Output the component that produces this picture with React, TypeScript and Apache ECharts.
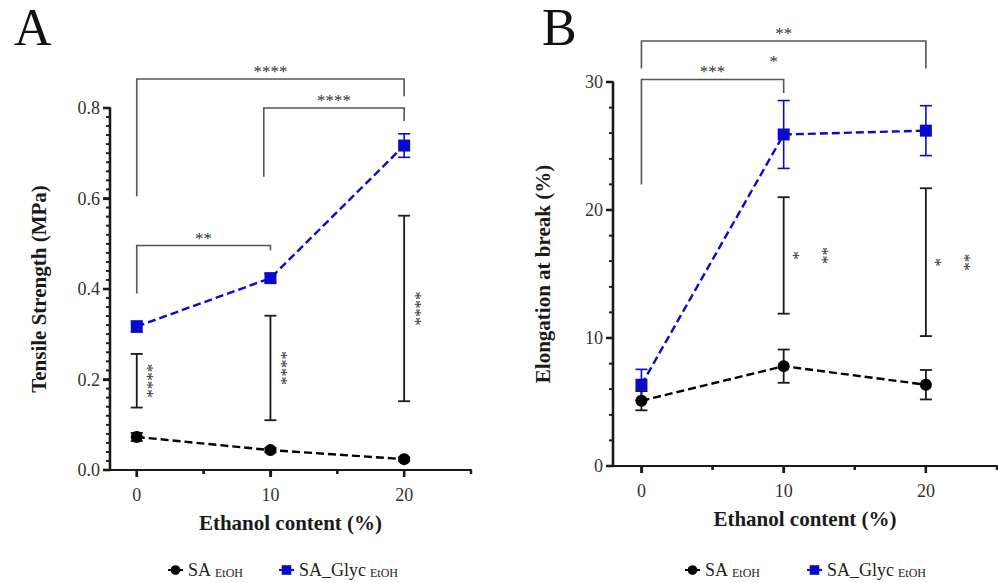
import React, { useEffect, useRef } from "react";
import * as echarts from "echarts";

// Ethanol content (%) of each formulation
const ethanolContent = [0, 10, 20];

// Panel A: tensile strength (MPa), mean and SD
const tensileSA = [0.073, 0.044, 0.024];
const tensileSAErr = [0.009, 0.005, 0.004];
const tensileGlyc = [0.317, 0.424, 0.717];
const tensileGlycErr = [0.012, 0.01, 0.026];

// Panel B: elongation at break (%), mean and SD
const elongSA = [5.1, 7.8, 6.35];
const elongSAErr = [0.75, 1.3, 1.15];
const elongGlyc = [6.35, 25.9, 26.2];
const elongGlycErr = [1.2, 2.65, 1.95];

// x-axis tick positions
const xMajorTicks = [0, 10, 20];
const xMinorTicks = [5, 15, 25];

// y-axis tick positions
const tensileTicks = [0, 0.2, 0.4, 0.6, 0.8];
const elongTicks = [0, 10, 20, 30];

// Comparison brackets: [xStart, xEnd, yBar, yLeftEnd, yRightEnd]
const tensileBrackets = [
  [0, 20, 0.864, 0.605, 0.826],
  [9.5, 20, 0.8, 0.648, 0.771],
  [0, 10, 0.496, 0.39, 0.485],
];
const tensileBracketLabels = ["****", "****", "**"];

// Vertical comparison bars between the two formulations: [x, yTop, yBottom]
const tensileBars = [
  [0, 0.2565, 0.138],
  [10, 0.341, 0.11],
  [20, 0.562, 0.152],
];
const tensileBarLabels = [["****"], ["****"], ["****"]];

const elongBrackets = [
  [0, 20, 33.2, 31.05, 31.05],
  [0, 10, 30.2, 22.0, 29.14],
];
const elongBracketLabels = ["**", "***"];

const elongBars = [
  [10, 21.0, 11.9],
  [20, 21.7, 10.15],
];
const elongBarLabels = [["*", "**"], ["*", "**"]];

// Free-standing marks: [x, y]
const elongNotes = [[9.3, 31.6]];
const elongNoteLabels = ["*"];

const FONT = "'Liberation Serif', 'Times New Roman', serif";
const BLUE = "#0a0acc";
const INK = "#1a1a1a";
const BRACKET = "#555555";
const NOTE = "#333333";
const X_MIN = -2;
const X_MAX = 25;

const pair = (xs: number[], ys: number[], es?: number[]) =>
  xs.map((x, i) => (es ? [x, ys[i], es[i]] : [x, ys[i]]));

const seg = (x1: number, y1: number, x2: number, y2: number, stroke: string, lineWidth: number) => ({
  type: "line",
  shape: { x1, y1, x2, y2 },
  style: { stroke, lineWidth, fill: null },
});

// Axis frame (lines, major and minor ticks) from any value -> pixel mapping
function frameSegments(toPx: (x: number, y: number) => number[], yTicks: number[], yMinorSplit: number) {
  const origin = toPx(X_MIN, yTicks[0]);
  const xEnd = toPx(X_MAX, yTicks[0]);
  const yTop = toPx(X_MIN, yTicks[yTicks.length - 1]);
  const left = origin[0];
  const bottom = origin[1];
  const kids: any[] = [
    seg(left - 7, bottom, xEnd[0], bottom, INK, 2.2),
    seg(left, bottom, left, yTop[1], INK, 2.2),
  ];
  xMajorTicks.forEach((v) => {
    const px = toPx(v, 0)[0];
    kids.push(seg(px, bottom, px, bottom + 7, INK, 2.2));
  });
  xMinorTicks.forEach((v) => {
    const px = toPx(v, 0)[0];
    kids.push(seg(px, bottom, px, bottom + 4, INK, 2.2));
  });
  yTicks.forEach((v, i) => {
    const py = toPx(X_MIN, v)[1];
    kids.push(seg(left, py, left - 7, py, INK, 2.2));
    if (i < yTicks.length - 1) {
      const step = (yTicks[i + 1] - v) / yMinorSplit;
      for (let k = 1; k < yMinorSplit; k++) {
        const pm = toPx(X_MIN, v + step * k)[1];
        kids.push(seg(left, pm, left - 4, pm, INK, 1.6));
      }
    }
  });
  return kids;
}

function axisFrameSeries(grid: number, yTicks: number[], yMinorSplit: number) {
  return {
    type: "custom",
    xAxisIndex: grid,
    yAxisIndex: grid,
    clip: false,
    silent: true,
    z: 4,
    itemStyle: { color: INK },
    data: [[0, yTicks[1]]],
    renderItem: (_p: any, api: any) => ({
      type: "group",
      children: frameSegments((x, y) => api.coord([x, y]), yTicks, yMinorSplit),
    }),
  };
}

function errorBarSeries(data: number[][], color: string, grid: number, width: number) {
  return {
    type: "custom",
    xAxisIndex: grid,
    yAxisIndex: grid,
    clip: false,
    z: 1,
    silent: true,
    itemStyle: { color },
    data,
    renderItem: (_p: any, api: any) => {
      const x = api.value(0);
      const y = api.value(1);
      const e = api.value(2);
      const top = api.coord([x, y + e]);
      const bot = api.coord([x, y - e]);
      const cap = 6;
      return {
        type: "group",
        children: [
          seg(top[0], top[1], bot[0], bot[1], color, width),
          seg(top[0] - cap, top[1], top[0] + cap, top[1], color, width),
          seg(bot[0] - cap, bot[1], bot[0] + cap, bot[1], color, width),
        ],
      };
    },
  };
}

function noteText(text: string, x: number, y: number, rotation = 0, align = "center", vAlign = "middle") {
  return {
    type: "text",
    x,
    y,
    rotation,
    style: { text, x: 0, y: 0, align, verticalAlign: vAlign, fontSize: 17, fontFamily: FONT, fill: NOTE },
  };
}

function bracketSeries(data: number[][], labels: string[], grid: number) {
  return {
    type: "custom",
    xAxisIndex: grid,
    yAxisIndex: grid,
    clip: false,
    silent: true,
    z: 1,
    itemStyle: { color: NOTE },
    data,
    renderItem: (p: any, api: any) => {
      const x1 = api.value(0);
      const x2 = api.value(1);
      const yBar = api.value(2);
      const bl = api.coord([x1, yBar]);
      const br = api.coord([x2, yBar]);
      const l = api.coord([x1, api.value(3)]);
      const r = api.coord([x2, api.value(4)]);
      return {
        type: "group",
        children: [
          {
            type: "polyline",
            shape: { points: [[l[0], l[1]], [bl[0], bl[1]], [br[0], br[1]], [r[0], r[1]]] },
            style: { stroke: BRACKET, lineWidth: 1.6, fill: null },
          },
          noteText(labels[p.dataIndex], (bl[0] + br[0]) / 2, bl[1] + 1, 0, "center", "bottom"),
        ],
      };
    },
  };
}

function compareBarSeries(data: number[][], labels: string[][], grid: number, offsets: number[]) {
  return {
    type: "custom",
    xAxisIndex: grid,
    yAxisIndex: grid,
    clip: false,
    silent: true,
    z: 1,
    itemStyle: { color: NOTE },
    data,
    renderItem: (p: any, api: any) => {
      const x = api.value(0);
      const top = api.coord([x, api.value(1)]);
      const bot = api.coord([x, api.value(2)]);
      const cap = 6;
      const midY = (top[1] + bot[1]) / 2;
      const texts = labels[p.dataIndex].map((t, k) => noteText(t, top[0] + offsets[k], midY, -Math.PI / 2));
      return {
        type: "group",
        children: [
          seg(top[0], top[1], bot[0], bot[1], INK, 1.8),
          seg(top[0] - cap, top[1], top[0] + cap, top[1], INK, 1.8),
          seg(bot[0] - cap, bot[1], bot[0] + cap, bot[1], INK, 1.8),
          ...texts,
        ],
      };
    },
  };
}

function noteSeries(data: number[][], labels: string[], grid: number) {
  return {
    type: "custom",
    xAxisIndex: grid,
    yAxisIndex: grid,
    clip: false,
    silent: true,
    z: 1,
    itemStyle: { color: NOTE },
    data,
    renderItem: (p: any, api: any) => {
      const pt = api.coord([api.value(0), api.value(1)]);
      return { type: "group", children: [noteText(labels[p.dataIndex], pt[0], pt[1])] };
    },
  };
}

function xAxisFor(grid: number) {
  return {
    type: "value",
    gridIndex: grid,
    position: "bottom",
    min: X_MIN,
    max: X_MAX,
    splitLine: { show: false },
    name: "Ethanol content (%)",
    nameLocation: "middle",
    nameGap: 42,
    nameTextStyle: { fontFamily: FONT, fontWeight: "bold", fontSize: 21, color: INK },
    axisLine: { show: true, onZero: false, lineStyle: { color: INK, width: 2.2 } },
    axisTick: { show: true, customValues: xMajorTicks, length: 7, lineStyle: { color: INK, width: 2.2 } },
    axisLabel: { customValues: xMajorTicks, margin: 16, fontFamily: FONT, fontSize: 18, color: "#333" },
  };
}

function yAxisFor(grid: number, name: string, ticks: number[], digits: number, gap: number) {
  return {
    type: "value",
    gridIndex: grid,
    position: "left",
    min: ticks[0],
    max: ticks[ticks.length - 1],
    interval: ticks[1] - ticks[0],
    name,
    nameLocation: "middle",
    nameGap: gap,
    nameTextStyle: { fontFamily: FONT, fontWeight: "bold", fontSize: 21, color: INK },
    splitLine: { show: false },
    axisLine: { show: true, onZero: false, lineStyle: { color: INK, width: 2.2 } },
    axisTick: { show: true, length: 7, lineStyle: { color: INK, width: 2.2 } },
    axisLabel: {
      margin: 10,
      fontFamily: FONT,
      fontSize: 18,
      color: "#333",
      formatter: (v: number) => v.toFixed(digits),
    },
  };
}

function lineSeries(name: string, grid: number, data: number[][], color: string, symbol: string, size: number) {
  return {
    type: "line",
    name,
    xAxisIndex: grid,
    yAxisIndex: grid,
    data,
    symbol,
    symbolSize: size,
    z: 3,
    itemStyle: { color },
    lineStyle: { color, width: 2.4, type: [8, 4] },
  };
}

function legendItem(name: string, left: number) {
  return {
    data: [name],
    left,
    top: 556,
    itemWidth: 15,
    itemHeight: 12,
    itemGap: 0,
    selectedMode: false,
    formatter: (n: string) => (n === "SA_EtOH" ? "{m|SA}{s|EtOH}" : "{m|SA_Glyc}{s|EtOH}"),
    textStyle: {
      color: "#222",
      rich: {
        m: { fontFamily: FONT, fontSize: 18, color: "#222", padding: [0, 4, 0, 0] },
        s: { fontFamily: FONT, fontSize: 12, color: "#222", padding: [6, 0, 0, 0] },
      },
    },
  };
}

const panelLetters = [
  { id: "letterA", type: "text", left: 14, top: 1, style: { text: "A", fontFamily: FONT, fontSize: 52, fill: "#111" } },
  { id: "letterB", type: "text", left: 542, top: 1, style: { text: "B", fontFamily: FONT, fontSize: 52, fill: "#111" } },
];

export default function App() {
  const ref = useRef<HTMLDivElement>(null);

  useEffect(() => {
    if (!ref.current) return;
    const chart = echarts.init(ref.current, null, { renderer: "svg" });

    const option = {
      animation: false,
      backgroundColor: "#ffffff",
      grid: [
        { left: 110, top: 108, width: 361, height: 362 },
        { left: 613, top: 82, width: 384, height: 384 },
      ],
      xAxis: [xAxisFor(0), xAxisFor(1)],
      yAxis: [
        yAxisFor(0, "Tensile Strength (MPa)", tensileTicks, 1, 61),
        yAxisFor(1, "Elongation at break (%)", elongTicks, 0, 60),
      ],
      legend: [
        legendItem("SA_EtOH", 162),
        legendItem("SA_Glyc_EtOH", 273),
        legendItem("SA_EtOH", 679),
        legendItem("SA_Glyc_EtOH", 801),
      ],
      graphic: panelLetters,
      series: [
        // Panel A
        axisFrameSeries(0, tensileTicks, 10),
        bracketSeries(tensileBrackets, tensileBracketLabels, 0),
        compareBarSeries(tensileBars, tensileBarLabels, 0, [11]),
        errorBarSeries(pair(ethanolContent, tensileSA, tensileSAErr), INK, 0, 1.8),
        errorBarSeries(pair(ethanolContent, tensileGlyc, tensileGlycErr), BLUE, 0, 1.6),
        lineSeries("SA_EtOH", 0, pair(ethanolContent, tensileSA), "#000000", "circle", 12),
        lineSeries("SA_Glyc_EtOH", 0, pair(ethanolContent, tensileGlyc), BLUE, "rect", 12),
        // Panel B
        axisFrameSeries(1, elongTicks, 5),
        bracketSeries(elongBrackets, elongBracketLabels, 1),
        compareBarSeries(elongBars, elongBarLabels, 1, [10, 39]),
        noteSeries(elongNotes, elongNoteLabels, 1),
        errorBarSeries(pair(ethanolContent, elongSA, elongSAErr), INK, 1, 1.8),
        errorBarSeries(pair(ethanolContent, elongGlyc, elongGlycErr), BLUE, 1, 1.6),
        lineSeries("SA_EtOH", 1, pair(ethanolContent, elongSA), "#000000", "circle", 12),
        lineSeries("SA_Glyc_EtOH", 1, pair(ethanolContent, elongGlyc), BLUE, "rect", 12),
      ],
    };

    chart.setOption(option as any);

    // Axis frames drawn once more on top, mapped through each grid's scales
    const frames: any[] = [];
    [
      { grid: 0, ticks: tensileTicks, split: 10 },
      { grid: 1, ticks: elongTicks, split: 5 },
    ].forEach(({ grid, ticks, split }) => {
      const toPx = (x: number, y: number) =>
        chart.convertToPixel({ xAxisIndex: grid, yAxisIndex: grid } as any, [x, y]) as number[];
      frames.push({
        id: `frame${grid}`,
        type: "group",
        z: 100,
        silent: true,
        children: frameSegments(toPx, ticks, split),
      });
    });
    chart.setOption({ graphic: [...panelLetters, ...frames] } as any);

    return () => chart.dispose();
  }, []);

  return (
    <div
      ref={ref}
      style={{ position: "fixed", left: 0, top: 0, width: 998, height: 583, background: "#fff" }}
    />
  );
}
